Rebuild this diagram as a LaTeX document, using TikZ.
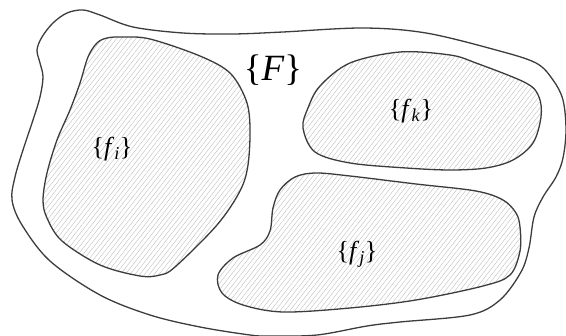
\documentclass[tikz,border=0pt]{standalone}
\usepackage{fontspec}
\setmainfont{Liberation Serif}
\usepackage{xcolor}
\usepackage{tikz}
\usetikzlibrary{patterns.meta}
\definecolor{SetLine}{HTML}{3C3C3C}
\definecolor{HatchGray}{HTML}{BEBEBE}

\begin{document}
\begin{tikzpicture}[
  x=1pt, y=-1pt,
  setline/.style={draw=SetLine,line width=1.3pt},
  subset/.style={setline,pattern={Lines[angle=52,distance=3.8pt,line width=0.4pt]},pattern color=HatchGray},
  biglabel/.style={font=\fontsize{37}{39}\selectfont,inner sep=0pt},
  smalllabel/.style={font=\fontsize{26}{28}\selectfont,inner sep=0pt}
]
  \useasboundingbox (0,0) rectangle (566,336);

  % the whole set
  \draw[setline] plot[smooth cycle,tension=0.55] coordinates {
    (37,50) (42,37) (53,23) (67,13) (83,10) (100,15) (133,27) (183,33)
    (233,34) (283,32) (363,28) (426,33) (496,50) (536,63) (553,80) (563,100)
    (566,130) (563,158) (556,177) (543,197) (534,217) (529,248) (521,272)
    (500,300) (470,315) (400,322) (367,326) (317,335) (270,336) (250,335)
    (200,327) (150,315) (100,295) (50,261) (22,225) (12,200) (15,177)
    (23,150) (33,120) (40,97) (43,77) (40,63)};

  % subsets
  \draw[subset] plot[smooth cycle,tension=0.55] coordinates {
    (107,38) (122,37) (150,39) (200,56) (230,73) (246,100) (250,127)
    (248,165) (240,191) (217,225) (175,267) (160,275) (140,276) (100,265)
    (62,241) (47,218) (43,200) (47,173) (57,140) (70,110) (80,83)
    (88,57) (97,43)};
  \draw[subset] plot[smooth cycle,tension=0.55] coordinates {
    (303,128) (308,108) (320,86) (350,63) (400,52) (450,55) (476,63)
    (526,83) (539,97) (541,117) (533,143) (513,160) (486,168) (450,170)
    (406,168) (350,163) (315,152)};
  \draw[subset] plot[smooth cycle,tension=0.55] coordinates {
    (316,173) (350,176) (416,184) (476,191) (503,200) (516,213) (520,227)
    (520,251) (510,275) (483,286) (416,300) (350,308) (283,312) (243,305)
    (222,293) (218,275) (233,258) (260,245) (270,231) (273,208) (280,190)
    (295,177)};

  % labels
  \node[biglabel] (F) at (273,70) {\{\textit{F}\}};
  \node[smalllabel] (fi) at (112,149) {\{\textit{f}\textsubscript{\textit{i}}\}};
  \node[smalllabel] (fk) at (411,111) {\{\textit{f}\textsubscript{\textit{k}}\}};
  \node[smalllabel] (fj) at (357,254) {\{\textit{f}\textsubscript{\textit{j}}\}};
\end{tikzpicture}
\end{document}
